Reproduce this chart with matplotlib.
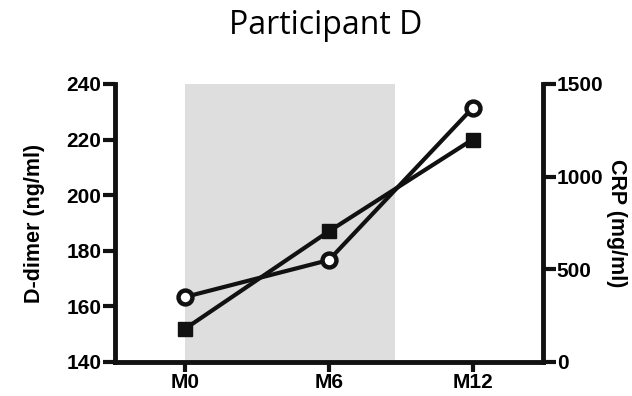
import matplotlib.pyplot as plt
import numpy as np

plt.rcParams['font.family'] = ['Liberation Sans', 'DejaVu Sans']

# Data
timepoints = ['M0', 'M6', 'M12']
ddimer = [152, 187, 220]      # ng/ml, left axis (squares)
crp = [351, 550, 1370]        # mg/ml, right axis (circles)
shade_end = 1.46              # grey band from M0 to here

x = np.arange(len(timepoints))

fig = plt.figure(figsize=(6.32, 3.96), dpi=100)
ax = fig.add_axes([0.182, 0.086, 0.677, 0.702])
ax2 = ax.twinx()

ax.axvspan(0, shade_end, color='#dedede', lw=0, zorder=0)

ax.plot(x, ddimer, color='#111111', lw=3, marker='s', ms=9.5,
        mfc='#111111', mec='#111111', zorder=3, clip_on=False)
ax2.plot(x, crp, color='#111111', lw=3, marker='o', ms=10,
         mfc='white', mec='#111111', mew=3.2, zorder=3, clip_on=False)

ax.set_xlim(-0.49, 2.49)
ax.set_ylim(140, 240)
ax2.set_ylim(0, 1500)
ax.set_xticks(x)
ax.set_xticklabels(timepoints)
ax.set_yticks(np.arange(140, 241, 20))
ax2.set_yticks([0, 500, 1000, 1500])

for a in (ax, ax2):
    for s in a.spines.values():
        s.set_linewidth(3.5)
        s.set_color('#111111')
    a.spines['top'].set_visible(False)
    a.tick_params(width=3, length=9, color='#111111', labelsize=15, pad=1)
    for lbl in a.get_xticklabels() + a.get_yticklabels():
        lbl.set_fontweight('bold')
ax.tick_params(axis='x', length=7)
ax.spines['right'].set_visible(False)
ax2.spines['left'].set_visible(False)
ax2.spines['bottom'].set_visible(False)

ax.set_ylabel('D-dimer (ng/ml)', fontsize=15.5, fontweight='bold', labelpad=15)
ax2.set_ylabel('CRP (mg/ml)', fontsize=15.5, fontweight='bold', rotation=270, labelpad=17)
ax.patch.set_visible(False)

fig.text(0.515, 0.935, 'Participant D', ha='center', va='center', fontsize=23,
         family=['Open Sans', 'DejaVu Sans'])

fig.savefig('out.png', dpi=100)
